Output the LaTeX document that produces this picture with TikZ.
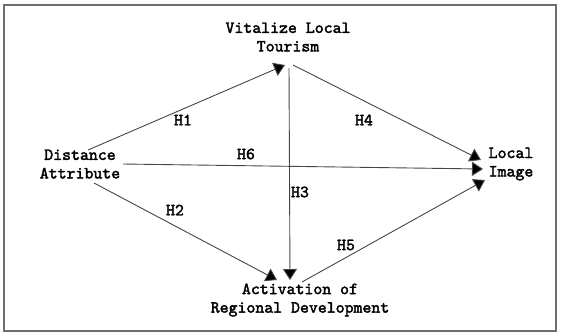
\documentclass[tikz,border=0pt]{standalone}
\usepackage{fontspec}
\newfontfamily\lblfont{lmmono10-regular.otf}[FakeBold=2.2]
\usetikzlibrary{arrows.meta,calc}
\definecolor{linegray}{RGB}{70,70,70}
\definecolor{framegray}{RGB}{110,110,110}
\tikzset{
  lbl/.style={inner sep=0pt, align=center, font=\lblfont\fontsize{17}{18.5}\selectfont},
  hyp/.style={inner sep=0pt, font=\lblfont\fontsize{17}{18.5}\selectfont},
  conn/.style={draw=linegray, line width=0.9pt, -{Triangle[length=11pt,width=14pt,fill=black]}}
}
\begin{document}
\begin{tikzpicture}[x=1pt,y=-1pt]
\useasboundingbox (0,0) rectangle (561,333);
\draw[framegray, line width=1.3pt] (4,5) rectangle (556,331);
% nodes
\node[lbl] (vlt) at (288,37) {Vitalize Local\\Tourism};
\node[lbl] (dist) at (80,164) {Distance\\Attribute};
\node[lbl] (img) at (511,164) {Local\\Image};
\node[lbl] (act) at (300,300) {Activation of\\Regional Development};
% connectors
\draw[conn] ($(dist.center)+(8,-14)$) -- ($(vlt.center)+(-3,28)$);
\draw[conn] ($(dist.center)+(14,19)$) -- ($(act.center)+(-23,-20)$);
\draw[conn] ($(dist.center)+(43,0)$) -- ($(img.center)+(-28,5)$);
\draw[conn] ($(vlt.center)+(1,31)$) -- ($(act.center)+(-10,-20)$);
\draw[conn] ($(vlt.center)+(5,28)$) -- ($(img.center)+(-30,-4)$);
\draw[conn] ($(act.center)+(2,-18)$) -- ($(img.center)+(-26,16)$);
% labels
\node[hyp] (h1) at (183,120) {H1};
\node[hyp] (h4) at (364,120) {H4};
\node[hyp] (h6) at (246,154) {H6};
\node[hyp] (h3) at (300,192) {H3};
\node[hyp] (h2) at (175,210) {H2};
\node[hyp] (h5) at (346,245) {H5};
\end{tikzpicture}
\end{document}
